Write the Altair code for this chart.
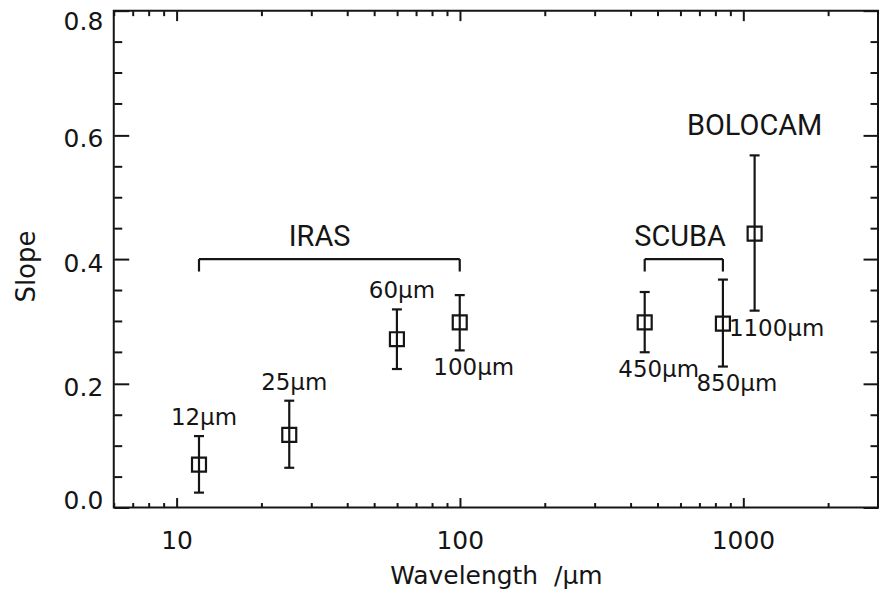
import altair as alt
import pandas as pd

# ---- data ----
wavelength = [12, 25, 60, 100, 450, 850, 1100]
slope = [0.069, 0.117, 0.271, 0.298, 0.298, 0.296, 0.441]
slope_low = [0.024, 0.064, 0.223, 0.253, 0.250, 0.227, 0.317]
slope_high = [0.115, 0.172, 0.319, 0.342, 0.347, 0.367, 0.567]
band_label = ["12µm", "25µm", "60µm", "100µm", "450µm", "850µm", "1100µm"]
label_side = ["above", "above", "above", "below", "below", "below", "below right"]

bracket_name = ["IRAS", "SCUBA"]
bracket_start = [12, 450]
bracket_end = [100, 850]
bracket_level = [0.40, 0.40]
bracket_leg = [0.38, 0.38]

instrument_name = ["IRAS", "SCUBA", "BOLOCAM"]
instrument_x = [32, 600, 1100]
instrument_y = [0.435, 0.435, 0.614]

x_major = [10, 100, 1000]
x_minor = [6, 7, 8, 9, 20, 30, 40, 50, 60, 70, 80, 90,
           200, 300, 400, 500, 600, 700, 800, 900, 2000, 3000]
y_major = [0.0, 0.2, 0.4, 0.6, 0.8]
y_minor = [0.05, 0.1, 0.15, 0.25, 0.3, 0.35, 0.45, 0.5, 0.55, 0.65, 0.7, 0.75]

points = pd.DataFrame({
    "wavelength": wavelength, "slope": slope, "low": slope_low,
    "high": slope_high, "label": band_label, "side": label_side,
})
brackets = pd.DataFrame({
    "name": bracket_name, "start": bracket_start, "end": bracket_end,
    "level": bracket_level, "leg": bracket_leg,
})
instruments = pd.DataFrame({"name": instrument_name, "x": instrument_x, "y": instrument_y})

INK = "#151515"
W, H = 766, 498
FONT = "DejaVu Sans"

x_scale = alt.Scale(type="log", domain=[6, 3000])
y_scale = alt.Scale(domain=[0, 0.8])

x_all = sorted(x_major + x_minor)
y_all = sorted(y_major + y_minor)
x_major_test = " || ".join(f"datum.value == {v}" for v in x_major)
y_major_test = "abs(datum.value * 5 - round(datum.value * 5)) < 0.001"
x_tick_size = {"condition": {"test": x_major_test, "value": 10}, "value": 5}
y_tick_size = {"condition": {"test": y_major_test, "value": 15}, "value": 8}


def tick_axis(orient, values, size):
    return alt.Axis(orient=orient, offset=-(H if orient in ("top", "bottom") else W),
                    values=values, tickSize=size, tickWidth=2, tickColor=INK,
                    labels=False, domain=False, grid=False, title=None)


x_label_axis = alt.Axis(orient="bottom", values=x_major, format="d", tickSize=0,
                        domain=False, grid=False, labelFont=FONT, labelFontSize=25,
                        labelColor=INK, labelPadding=21, labelFlush=False,
                        title="Wavelength\u00a0\u00a0/µm", titleFont=FONT, titleFontSize=25,
                        titleFontWeight="normal", titleColor=INK, titlePadding=10)
y_label_axis = alt.Axis(orient="left", values=y_major, format=".1f", tickSize=0,
                        domain=False, grid=False, labelFont=FONT, labelFontSize=25,
                        labelColor=INK, labelPadding=11,
                        labelOffset={"condition": [
                            {"test": "datum.value >= 0.79", "value": 11},
                            {"test": "datum.value <= 0.01", "value": -7}],
                            "value": 4},
                        title="Slope", titleFont=FONT, titleFontSize=26,
                        titleFontWeight="normal", titleColor=INK, titlePadding=24,
                        titleY=256)

base = alt.Chart(points)

err = base.mark_rule(strokeWidth=2.2, color=INK).encode(
    x=alt.X("wavelength:Q", scale=x_scale, axis=x_label_axis),
    y=alt.Y("low:Q", scale=y_scale, axis=y_label_axis),
    y2="high:Q",
)
cap_hi = base.mark_tick(orient="horizontal", size=10, thickness=2.2, color=INK, opacity=1).encode(
    x=alt.X("wavelength:Q", scale=x_scale, axis=tick_axis("top", x_all, x_tick_size)),
    y=alt.Y("high:Q", scale=y_scale, axis=tick_axis("right", y_all, y_tick_size)),
)
cap_lo = base.mark_tick(orient="horizontal", size=10, thickness=2.2, color=INK, opacity=1).encode(
    x=alt.X("wavelength:Q", scale=x_scale, axis=tick_axis("bottom", x_all, x_tick_size)),
    y=alt.Y("low:Q", scale=y_scale, axis=tick_axis("left", y_all, y_tick_size)),
)
squares = base.mark_point(shape="square", filled=False, size=196, strokeWidth=2.2,
                          color=INK, opacity=1).encode(
    x=alt.X("wavelength:Q", scale=x_scale, axis=None),
    y=alt.Y("slope:Q", scale=y_scale, axis=None),
)

txt = dict(font=FONT, fontSize=23, color=INK, baseline="middle", align="center")
lab_above = base.transform_filter("datum.side == 'above'").mark_text(dx=5, dy=-18, **txt).encode(
    x=alt.X("wavelength:Q", scale=x_scale, axis=None),
    y=alt.Y("high:Q", scale=y_scale, axis=None), text="label:N")
lab_below = base.transform_filter("datum.side == 'below'").mark_text(dx=14, dy=18, **txt).encode(
    x=alt.X("wavelength:Q", scale=x_scale, axis=None),
    y=alt.Y("low:Q", scale=y_scale, axis=None), text="label:N")
lab_right = base.transform_filter("datum.side == 'below right'").mark_text(dx=22, dy=18, **txt).encode(
    x=alt.X("wavelength:Q", scale=x_scale, axis=None),
    y=alt.Y("low:Q", scale=y_scale, axis=None), text="label:N")

bbase = alt.Chart(brackets)
br_h = bbase.mark_rule(strokeWidth=2.2, color=INK).encode(
    x=alt.X("start:Q", scale=x_scale, axis=None), x2="end:Q",
    y=alt.Y("level:Q", scale=y_scale, axis=None))
br_l = bbase.mark_rule(strokeWidth=2.2, color=INK).encode(
    x=alt.X("start:Q", scale=x_scale, axis=None),
    y=alt.Y("leg:Q", scale=y_scale, axis=None), y2="level:Q")
br_r = bbase.mark_rule(strokeWidth=2.2, color=INK).encode(
    x=alt.X("end:Q", scale=x_scale, axis=None),
    y=alt.Y("leg:Q", scale=y_scale, axis=None), y2="level:Q")

inst = alt.Chart(instruments).mark_text(font="Roboto", fontSize=29, color=INK,
                                         baseline="middle", align="center").encode(
    x=alt.X("x:Q", scale=x_scale, axis=None),
    y=alt.Y("y:Q", scale=y_scale, axis=None), text="name:N")

chart = alt.layer(
    err, cap_hi, cap_lo, squares, lab_above, lab_below, lab_right,
    br_h, br_l, br_r, inst
).resolve_axis(x="independent", y="independent").properties(
    width=W, height=H, autosize="none",
    padding={"left": 106, "top": 2, "right": 1, "bottom": 84},
    background="white",
).configure_view(stroke=INK, strokeWidth=2)

chart.save("out.html", embed_options={"renderer": "svg", "actions": False})
